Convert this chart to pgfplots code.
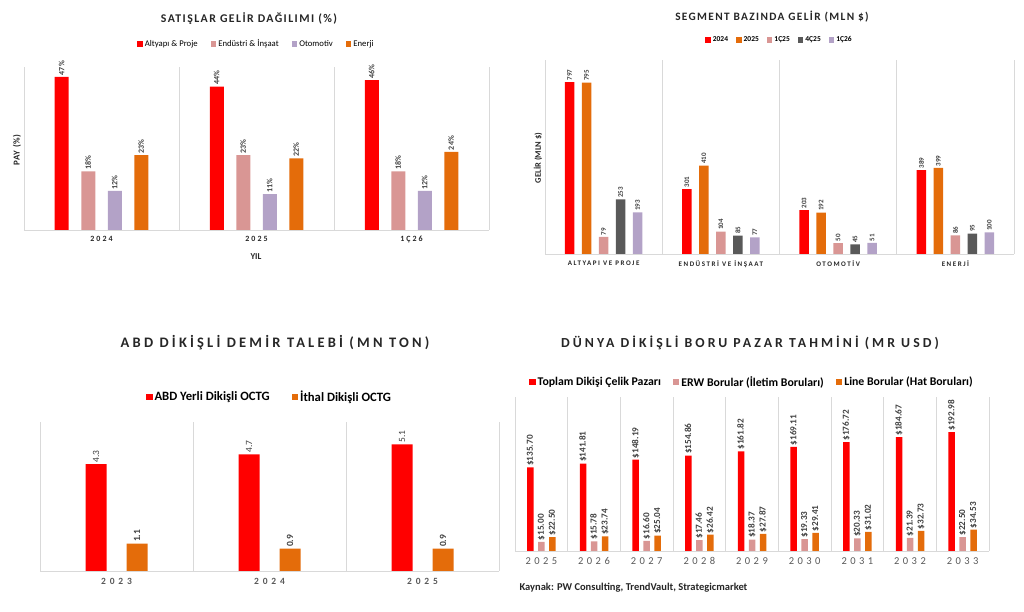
\documentclass[border=0pt]{standalone}
\usepackage{pgfplots}
\pgfplotsset{compat=1.18}
\usepackage{fontspec}
\setmainfont{Carlito}
\definecolor{cRed}{RGB}{255,0,0}
\definecolor{cPink}{RGB}{217,150,148}
\definecolor{cPurple}{RGB}{179,162,199}
\definecolor{cOrange}{RGB}{228,108,10}
\definecolor{cDark}{RGB}{89,89,89}
\definecolor{cGrid}{RGB}{217,217,217}
\definecolor{cText}{RGB}{64,64,64}
\definecolor{cTitle}{RGB}{38,38,38}
\definecolor{cTick}{RGB}{89,89,89}
\newcommand{\fs}[1]{\fontsize{#1}{#1}\selectfont}
\pgfplotsset{
  sq/.style={legend image code/.code={\fill[##1] (0pt,-2.8pt) rectangle (5.6pt,2.8pt);}},
  sqb/.style={legend image code/.code={\fill[##1] (0pt,-3.2pt) rectangle (6.4pt,3.2pt);}},
  panel/.style={
    scale only axis, ybar, ymin=0, enlargelimits=false,
    axis lines*=left, axis line style={cGrid, line width=0.8pt},
    ytick=\empty, major tick length=0pt, minor tick length=0pt,
    xminorgrids, minor grid style={cGrid, line width=0.8pt},
    /pgf/number format/assume math mode=true,
    legend columns=-1,
    nodes near coords,
    every node near coord/.append style={rotate=90, anchor=west, inner sep=1.5pt},
  },
}
\begin{document}
\begin{tikzpicture}
\useasboundingbox (0,0) rectangle (1024pt,612pt);
% Titles
\node[font=\bfseries\fs{11.8}\addfontfeature{LetterSpace=12}, text=cTitle] at (249pt,593pt) {SATIŞLAR GELİR DAĞILIMI (\%)};
\node[font=\bfseries\fs{11.3}\addfontfeature{LetterSpace=12}, text=cTitle] at (772pt,595pt) {SEGMENT BAZINDA GELİR (MLN \$)};
\node[font=\bfseries\fs{14.5}\addfontfeature{LetterSpace=22}, text=cTitle] at (275pt,269pt) {ABD DİKİŞLİ DEMİR TALEBİ (MN TON)};
\node[font=\bfseries\fs{13.8}\addfontfeature{LetterSpace=22}, text=cTitle] at (750pt,269pt) {DÜNYA DİKİŞLİ BORU PAZAR TAHMİNİ (MR USD)};
% axis labels
\node[font=\bfseries\fs{9}\addfontfeature{LetterSpace=8}, rotate=90, text=cTitle] at (17pt,462pt) {PAY (\%)};
\node[font=\bfseries\fs{9}, text=cTitle] at (256pt,355pt) {YIL};
\node[font=\bfseries\fs{8.5}, rotate=90, text=cTitle] at (538pt,454pt) {GELİR (MLN \$)};
\node[font=\bfseries\fs{10.5}, text=cTitle, anchor=west] at (516pt,24pt) {Kaynak: PW Consulting, TrendVault, Strategicmarket};

% Panel 1
\begin{axis}[panel, at={(24pt,382pt)}, anchor=south west, width=465pt, height=163pt,
  xmin=-0.5, xmax=2.5, ymax=50, xtick={0,1,2}, xticklabels={2024,2025,1Ç26},
  minor xtick={0.5,1.5,2.5},
  bar width=14pt, ybar=12.5pt,
  xticklabel style={font=\bfseries\fs{8}\addfontfeature{LetterSpace=25}, text=cTitle, yshift=-3pt},
  legend style={at={(0.5,1)}, anchor=center, yshift=23pt, draw=none, fill=none, font=\fs{8.7},
    /tikz/every even column/.append style={column sep=11pt}},
  nodes near coords={\pgfmathprintnumber{\pgfplotspointmeta}\%},
  every node near coord/.append style={font=\bfseries\fs{8}, text=cText},
]
\addplot[fill=cRed, draw=none, sq] coordinates {(0,47) (1,44) (2,46)};
\addplot[fill=cPink, draw=none, sq] coordinates {(0,18) (1,23) (2,18)};
\addplot[fill=cPurple, draw=none, sq] coordinates {(0,12) (1,11) (2,12)};
\addplot[fill=cOrange, draw=none, sq] coordinates {(0,23) (1,22) (2,24)};
\legend{Altyapı \& Proje, Endüstri \& İnşaat, Otomotiv, Enerji}
\end{axis}

% Panel 2
\begin{axis}[panel, at={(545pt,358pt)}, anchor=south west, width=469pt, height=194pt,
  xmin=-0.5, xmax=3.5, ymax=900, xtick={0,1,2,3},
  xticklabels={ALTYAPI VE PROJE, ENDÜSTRİ VE İNŞAAT, OTOMOTİV, ENERJİ},
  minor xtick={0.5,1.5,2.5,3.5},
  bar width=9.5pt, ybar=7.5pt,
  xticklabel style={font=\bfseries\fs{7}\addfontfeature{LetterSpace=22}, text=cTitle, yshift=-3pt},
  legend style={at={(0.5,1)}, anchor=center, yshift=20pt, draw=none, fill=none, font=\bfseries\fs{7.5},
    /tikz/every even column/.append style={column sep=6pt}},
  every node near coord/.append style={font=\bfseries\fs{7}, text=cText},
]
\addplot[fill=cRed, draw=none, sq] coordinates {(0,797) (1,301) (2,203) (3,389)};
\addplot[fill=cOrange, draw=none, sq] coordinates {(0,795) (1,410) (2,192) (3,399)};
\addplot[fill=cPink, draw=none, sq] coordinates {(0,79) (1,104) (2,50) (3,86)};
\addplot[fill=cDark, draw=none, sq] coordinates {(0,253) (1,85) (2,45) (3,95)};
\addplot[fill=cPurple, draw=none, sq] coordinates {(0,193) (1,77) (2,51) (3,100)};
\legend{2024, 2025, 1Ç25, 4Ç25, 1Ç26}
\end{axis}

% Panel 3
\begin{axis}[panel, at={(40pt,41pt)}, anchor=south west, width=459pt, height=149pt,
  xmin=-0.5, xmax=2.5, ymax=6, xtick={0,1,2}, xticklabels={2023,2024,2025},
  minor xtick={0.5,1.5,2.5},
  bar width=21pt, ybar=20pt,
  xticklabel style={font=\bfseries\fs{9.5}\addfontfeature{LetterSpace=40}, text=cTick, yshift=-4pt},
  legend style={at={(0.5,1)}, anchor=center, yshift=25pt, draw=none, fill=none, font=\bfseries\fs{12.7},
    /tikz/every even column/.append style={column sep=20pt}},
  nodes near coords={\pgfmathprintnumber[fixed,fixed zerofill,precision=1]{\pgfplotspointmeta}},
  every node near coord/.append style={font=\fs{9.5}, text=cText},
]
\addplot[fill=cRed, draw=none, sqb] coordinates {(0,4.3) (1,4.7) (2,5.1)};
\addplot[fill=cOrange, draw=none, sqb, every node near coord/.append style={font=\bfseries\fs{9.5}}] coordinates {(0,1.1) (1,0.9) (2,0.9)};
\legend{ABD Yerli Dikişli OCTG, İthal Dikişli OCTG}
\end{axis}

% Panel 4
\begin{axis}[panel, at={(515pt,61pt)}, anchor=south west, width=474pt, height=154pt,
  xmin=-0.5, xmax=8.5, ymax=250, xtick={0,...,8},
  xticklabels={2025,2026,2027,2028,2029,2030,2031,2032,2033},
  minor xtick={0.5,1.5,...,8.5},
  bar width=6.5pt, ybar=4.5pt,
  xticklabel style={font=\fs{10.5}\addfontfeature{LetterSpace=33}, text=cTick, yshift=-3pt},
  legend style={at={(0.5,1)}, anchor=center, yshift=15pt, draw=none, fill=none, font=\bfseries\fs{11.8},
    /tikz/every even column/.append style={column sep=10pt}},
  nodes near coords={\$\pgfmathprintnumber[fixed,fixed zerofill,precision=2]{\pgfplotspointmeta}},
  every node near coord/.append style={font=\bfseries\fs{9.2}, text=cText},
]
\addplot[fill=cRed, draw=none, sqb] coordinates {(0,135.70) (1,141.81) (2,148.19) (3,154.86) (4,161.82) (5,169.11) (6,176.72) (7,184.67) (8,192.98)};
\addplot[fill=cPink, draw=none, sqb] coordinates {(0,15.00) (1,15.78) (2,16.60) (3,17.46) (4,18.37) (5,19.33) (6,20.33) (7,21.39) (8,22.50)};
\addplot[fill=cOrange, draw=none, sqb] coordinates {(0,22.50) (1,23.74) (2,25.04) (3,26.42) (4,27.87) (5,29.41) (6,31.02) (7,32.73) (8,34.53)};
\legend{Toplam Dikişi Çelik Pazarı, ERW Borular (İletim Boruları), Line Borular (Hat Boruları)}
\end{axis}
\end{tikzpicture}
\end{document}
